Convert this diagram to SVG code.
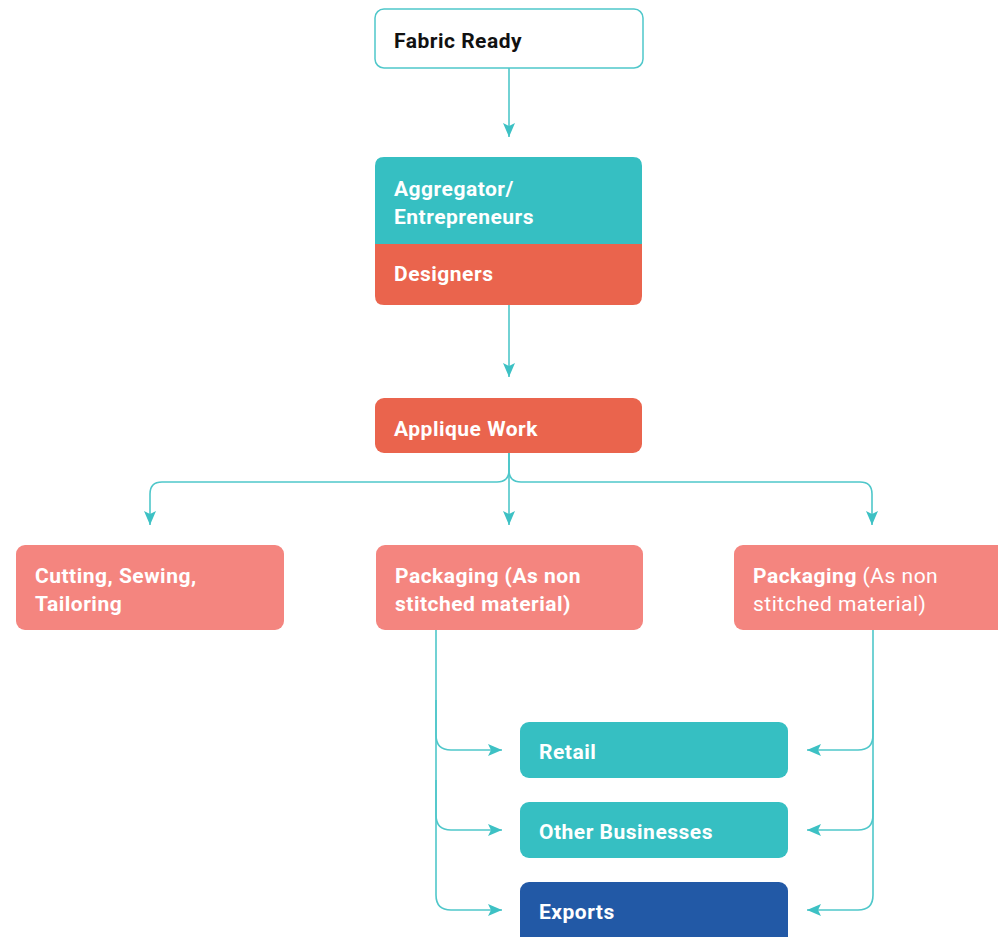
<svg xmlns="http://www.w3.org/2000/svg" width="998" height="937" viewBox="0 0 998 937">
<defs>
<marker id="arr" markerWidth="14" markerHeight="12" refX="14" refY="6" orient="auto" markerUnits="userSpaceOnUse">
<path d="M0,0 L14,6 L0,12 L3,6 Z" fill="#3DC1C4"/>
</marker>
</defs>
<style>
.t{font-family:Roboto,"Liberation Sans",sans-serif;font-size:21px;font-weight:700;fill:#fff;letter-spacing:0.5px}
.r{font-weight:400}
.c{fill:none;stroke:#4FC7CA;stroke-width:1.6}
</style>
<rect width="998" height="937" fill="#fff"/>
<g id="connectors">
<path class="c" d="M509,68 V137" marker-end="url(#arr)"/>
<path class="c" d="M509,305 V377" marker-end="url(#arr)"/>
<path class="c" d="M509,453 V525" marker-end="url(#arr)"/>
<path class="c" d="M509,453 V470 Q509,482 497,482 H162 Q150,482 150,494 V525" marker-end="url(#arr)"/>
<path class="c" d="M509,453 V470 Q509,482 521,482 H860 Q872,482 872,494 V525" marker-end="url(#arr)"/>
<path class="c" d="M436,630 V735 Q436,750 451,750 H502" marker-end="url(#arr)"/>
<path class="c" d="M436,700 V815 Q436,830 451,830 H502" marker-end="url(#arr)"/>
<path class="c" d="M436,780 V895 Q436,910 451,910 H502" marker-end="url(#arr)"/>
<path class="c" d="M873,630 V735 Q873,750 858,750 H807" marker-end="url(#arr)"/>
<path class="c" d="M873,700 V815 Q873,830 858,830 H807" marker-end="url(#arr)"/>
<path class="c" d="M873,780 V895 Q873,910 858,910 H807" marker-end="url(#arr)"/>
</g>
<g id="fabric-ready">
<rect x="375" y="9" width="268" height="59" rx="9" fill="#fff" stroke="#4FC7CA" stroke-width="1.5"/>
<text class="t" x="394" y="48" style="fill:#111">Fabric Ready</text>
</g>
<g id="aggregator-designers">
<path d="M375,244 V166 Q375,157 384,157 H633 Q642,157 642,166 V244 Z" fill="#36BFC2"/>
<path d="M375,244 H642 V296 Q642,305 633,305 H384 Q375,305 375,296 Z" fill="#EA644D"/>
<text class="t" x="394" y="196">Aggregator/</text>
<text class="t" x="394" y="224">Entrepreneurs</text>
<text class="t" x="394" y="281">Designers</text>
</g>
<g id="applique-work">
<rect x="375" y="398" width="267" height="55" rx="9" fill="#EA644D"/>
<text class="t" x="394" y="436">Applique Work</text>
</g>
<g id="cutting">
<rect x="16" y="545" width="268" height="85" rx="9" fill="#F4857F"/>
<text class="t" x="35" y="583">Cutting, Sewing,</text>
<text class="t" x="35" y="611">Tailoring</text>
</g>
<g id="packaging-1">
<rect x="376" y="545" width="267" height="85" rx="9" fill="#F4857F"/>
<text class="t" x="395" y="583">Packaging (As non</text>
<text class="t" x="395" y="611">stitched material)</text>
</g>
<g id="packaging-2">
<rect x="734" y="545" width="275" height="85" rx="9" fill="#F4857F"/>
<text class="t" x="753" y="583">Packaging<tspan class="r"> (As non</tspan></text>
<text class="t r" x="753" y="611">stitched material)</text>
</g>
<g id="retail">
<rect x="520" y="722" width="268" height="56" rx="9" fill="#36BFC2"/>
<text class="t" x="539" y="759">Retail</text>
</g>
<g id="other-businesses">
<rect x="520" y="802" width="268" height="56" rx="9" fill="#36BFC2"/>
<text class="t" x="539" y="839">Other Businesses</text>
</g>
<g id="exports">
<rect x="520" y="882" width="268" height="64" rx="9" fill="#2259A6"/>
<text class="t" x="539" y="919">Exports</text>
</g>
</svg>
